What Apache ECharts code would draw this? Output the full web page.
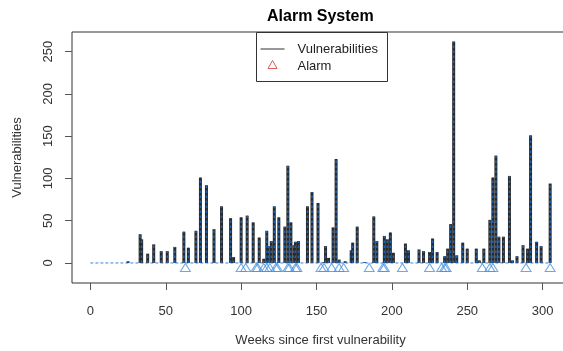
<!DOCTYPE html>
<html>
<head>
<meta charset="utf-8">
<script src="https://cdn.jsdelivr.net/npm/echarts@6/dist/echarts.min.js"></script>
<style>
  html, body { margin: 0; padding: 0; background: #fff; }
  #chart { width: 563px; height: 351px; }
</style>
</head>
<body>
<div id="chart"></div>
<script>
// Weekly vulnerability counts (weeks with a non-zero count)
const weeks = [25, 33, 34, 38, 42, 47, 51, 56, 62, 65, 70, 73, 77, 82, 87, 93, 95,
  100, 104, 108, 112, 115, 117, 118, 120, 122, 125, 129, 131, 133, 135, 136, 138,
  144, 147, 151, 155, 156, 158, 161, 163, 165, 169, 173, 174, 177, 182, 188, 190,
  195, 197, 199, 201, 209, 211, 218, 221, 225, 227, 230, 235, 237, 239, 241, 243,
  247, 250, 256, 258, 261, 265, 267, 269, 271, 274, 278, 280, 283, 287, 290, 292,
  296, 299, 305];
const counts = [2, 34, 28, 11, 22, 14, 14, 19, 37, 18, 38, 101, 92, 40, 67, 53, 7,
  54, 56, 48, 30, 5, 38, 20, 26, 67, 54, 43, 115, 48, 21, 25, 26,
  67, 84, 71, 1, 20, 6, 42, 123, 4, 2, 15, 24, 43, 1, 55, 26,
  32, 28, 36, 12, 23, 15, 16, 14, 13, 29, 13, 8, 17, 46, 262, 9,
  24, 17, 17, 3, 17, 51, 101, 127, 31, 31, 103, 3, 8, 21, 17, 151,
  25, 20, 94];

// Weeks in which the alarm fired
const alarmWeeks = [63, 100, 103, 110, 111, 115, 117, 119, 123, 124, 131, 132,
  136, 137, 153, 155, 160, 165, 168, 185, 194, 195, 207, 225, 233, 235, 236,
  260, 265, 267, 289, 305];
const alarmLevel = -5.3;

// Axis extent and tick labels
const firstWeek = 0;
const lastWeek = 305;
const xTicks = [0, 50, 100, 150, 200, 250, 300];
const yTicks = [0, 50, 100, 150, 200, 250];

const FONT = 'Liberation Sans, Arial, sans-serif';

const vulnData = weeks.map((w, i) => [w, counts[i]]);
const alarmData = alarmWeeks.map(w => [w, alarmLevel]);

const chart = echarts.init(document.getElementById('chart'), null, { renderer: 'canvas' });

chart.setOption({
  animation: false,
  backgroundColor: '#ffffff',
  title: {
    text: 'Alarm System',
    left: 262,
    top: 4,
    textStyle: { fontFamily: FONT, fontSize: 16, fontWeight: 'bold', color: '#000' }
  },
  grid: {
    left: 72, top: 32, width: 497, height: 251,
    outerBoundsMode: 'none',
    containLabel: false,
    show: true, borderColor: '#333', borderWidth: 1, backgroundColor: 'transparent'
  },
  xAxis: {
    type: 'value',
    min: -12.2, max: 317.5,
    name: 'Weeks since first vulnerability',
    nameLocation: 'middle',
    nameGap: 51,
    nameTextStyle: { fontFamily: FONT, fontSize: 13, color: '#333' },
    axisLine: { show: false, onZero: false },
    splitLine: { show: false },
    axisTick: { show: true, inside: false, length: 7, lineStyle: { color: '#555' }, customValues: xTicks },
    axisLabel: { fontFamily: FONT, fontSize: 13, color: '#333', margin: 22, customValues: xTicks }
  },
  yAxis: {
    type: 'value',
    min: -23.7, max: 273.3,
    name: 'Vulnerabilities',
    nameLocation: 'middle',
    nameGap: 48,
    nameRotate: 90,
    nameTextStyle: { fontFamily: FONT, fontSize: 13, color: '#333' },
    axisLine: { show: false, onZero: false },
    splitLine: { show: false },
    axisTick: { show: true, inside: false, length: 7, lineStyle: { color: '#555' }, customValues: yTicks },
    axisLabel: { fontFamily: FONT, fontSize: 13, color: '#333', margin: 17, rotate: 90, customValues: yTicks }
  },
  series: [
    {
      // dashed blue zero line running under the whole record
      type: 'line',
      data: [[firstWeek, 0], [lastWeek, 0]],
      symbol: 'none',
      silent: true,
      lineStyle: { color: '#3f86d6', width: 1, type: [3, 2] },
      z: 1
    },
    {
      name: 'Vulnerabilities',
      type: 'custom',
      data: vulnData,
      renderItem: function (params, api) {
        const base = api.coord([api.value(0), 0]);
        const top = api.coord([api.value(0), api.value(1)]);
        return {
          type: 'group',
          children: [
            {
              type: 'line',
              shape: { x1: base[0], y1: base[1], x2: top[0], y2: top[1] },
              style: { stroke: '#2a2a2a', lineWidth: 3 }
            },
            {
              type: 'line',
              shape: { x1: base[0], y1: base[1], x2: top[0], y2: top[1] },
              style: { stroke: '#1d63b5', lineWidth: 1.5, lineDash: [2.5, 2.5] }
            }
          ]
        };
      },
      z: 2
    },
    {
      name: 'Alarm',
      type: 'scatter',
      data: alarmData,
      symbol: 'triangle',
      symbolSize: [10, 8],
      itemStyle: { color: 'rgba(255,255,255,0)', borderColor: '#4a93e0', borderWidth: 1 },
      z: 3
    }
  ],
  graphic: [
    {
      type: 'group',
      left: 256, top: 32,
      children: [
        { type: 'rect', shape: { x: 0, y: 0, width: 131, height: 49 },
          style: { fill: '#fff', stroke: '#333', lineWidth: 1 } },
        { type: 'line', shape: { x1: 4, y1: 16.5, x2: 28, y2: 16.5 },
          style: { stroke: '#333', lineWidth: 1 } },
        { type: 'polygon', shape: { points: [[16, 28], [20.5, 36], [11.5, 36]] },
          style: { fill: 'none', stroke: '#e05a5a', lineWidth: 1 } },
        { type: 'text', x: 41, y: 16.5,
          style: { text: 'Vulnerabilities', fontFamily: FONT, fontSize: 13, fill: '#222', verticalAlign: 'middle' } },
        { type: 'text', x: 41, y: 33.5,
          style: { text: 'Alarm', fontFamily: FONT, fontSize: 13, fill: '#222', verticalAlign: 'middle' } }
      ]
    }
  ]
});
</script>
</body>
</html>
